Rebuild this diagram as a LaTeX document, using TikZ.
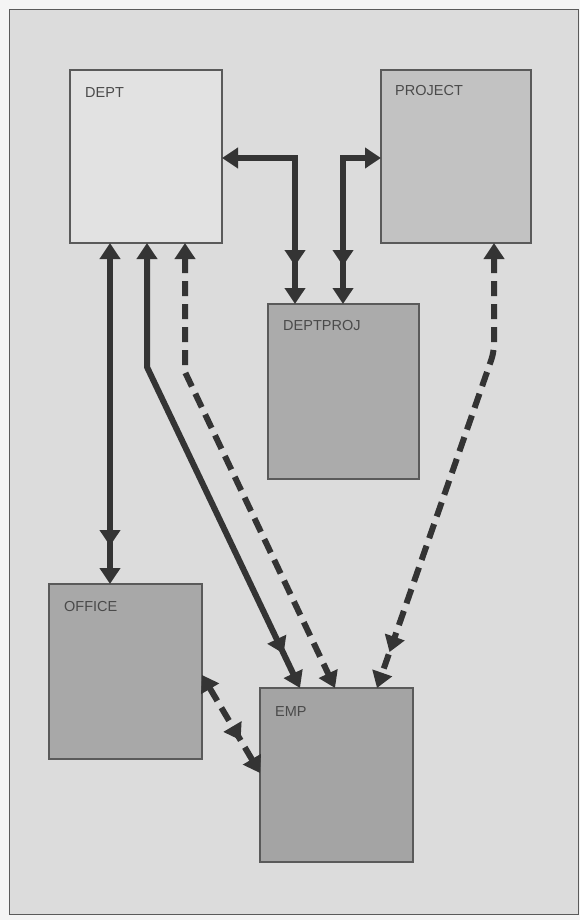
\documentclass[tikz,border=0pt]{standalone}
\usepackage{fontspec}
\setmainfont{Liberation Sans}
\usetikzlibrary{arrows.meta,decorations.markings}
\definecolor{pagecol}{HTML}{F4F4F4}
\definecolor{bgcol}{HTML}{DCDCDC}
\definecolor{framecol}{HTML}{5A5A5A}
\definecolor{deptcol}{HTML}{E2E2E2}
\definecolor{projcol}{HTML}{C2C2C2}
\definecolor{dpcol}{HTML}{ABABAB}
\definecolor{offcol}{HTML}{A8A8A8}
\definecolor{empcol}{HTML}{A4A4A4}
\definecolor{linecol}{HTML}{343434}
\definecolor{txtcol}{HTML}{4A4A4A}
\tikzset{
  entity/.style={draw=framecol, line width=1.4pt, inner sep=0pt, outer sep=0pt, rectangle},
  lbl/.style={anchor=west, inner sep=0pt, text=txtcol, font=\fontsize{14.5}{16}\selectfont},
  conn/.style={draw=linecol, line width=6pt, {Triangle[length=16pt,width=20pt]}-{Triangle[length=16pt,width=20pt]}},
  dashconn/.style={conn, dash pattern=on 15pt off 8pt},
  many/.style={postaction={decorate, decoration={markings,
      mark=at position -38pt with {\arrow[linecol,solid]{Triangle[length=16pt,width=20pt]}}}}},
}
\begin{document}
\begin{tikzpicture}[x=1pt,y=-1pt]
\useasboundingbox (0,0) rectangle (580,920);
\fill[pagecol] (0,0) rectangle (580,920);
\draw[framecol, line width=1pt, fill=bgcol] (9,10) rectangle (578,914);

\node[entity, fill=deptcol, minimum width=152pt, minimum height=173pt] (dept) at (146,156.5) {};
\node[entity, fill=projcol, minimum width=150pt, minimum height=173pt] (project) at (456,156.5) {};
\node[entity, fill=dpcol, minimum width=151pt, minimum height=175pt] (deptproj) at (343.5,391.5) {};
\node[entity, fill=offcol, minimum width=153pt, minimum height=175pt] (office) at (125.5,671.5) {};
\node[entity, fill=empcol, minimum width=153pt, minimum height=174pt] (emp) at (336.5,775) {};

\node[lbl] (tdept) at ([xshift=15pt,yshift=-23pt]dept.north west) {DEPT};
\node[lbl] (tproject) at ([xshift=14pt,yshift=-21pt]project.north west) {PROJECT};
\node[lbl] (tdeptproj) at ([xshift=15pt,yshift=-22pt]deptproj.north west) {DEPTPROJ};
\node[lbl] (toffice) at ([xshift=15pt,yshift=-23pt]office.north west) {OFFICE};
\node[lbl] (temp) at ([xshift=15pt,yshift=-24pt]emp.north west) {EMP};

% bends
\coordinate (b4) at (147,367);
\coordinate (b5) at (185,372);
\coordinate (b6) at (494,352);

% DEPT -- DEPTPROJ
\draw[conn, many] ([yshift=-88pt]dept.north east) -| ([xshift=-48.5pt]deptproj.north);
% PROJECT -- DEPTPROJ
\draw[conn, many] ([yshift=-88pt]project.north west) -| ([xshift=-0.5pt]deptproj.north);
% DEPT -- OFFICE
\draw[conn, many] ([xshift=-36pt]dept.south) -- ([xshift=-15.5pt]office.north);
% DEPT -- EMP (solid)
\draw[conn, many] ([xshift=1pt]dept.south) -- (b4) -- ([xshift=-36.5pt]emp.north);
% DEPT -- EMP (dashed)
\draw[dashconn] ([xshift=39pt]dept.south) -- (b5) -- ([xshift=-1.5pt]emp.north);
% PROJECT -- EMP (dashed)
\draw[dashconn, many, rounded corners=8pt] ([xshift=38pt]project.south) -- (b6) -- ([xshift=40.5pt]emp.north);
% OFFICE -- EMP (dashed)
\draw[dashconn, many] ([yshift=-3.5pt]office.east) -- ([yshift=2pt]emp.west);
\end{tikzpicture}
\end{document}
